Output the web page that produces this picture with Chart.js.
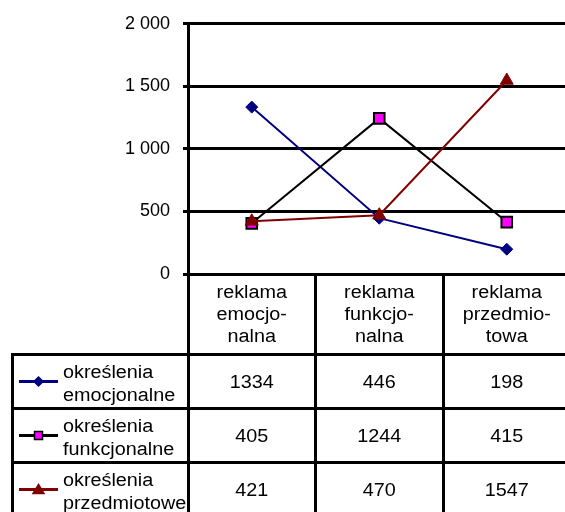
<!DOCTYPE html>
<html><head><meta charset="utf-8">
<script src="https://cdn.jsdelivr.net/npm/chart.js@4"></script>
<style>
html,body{margin:0;padding:0;background:#fff;}
#wrap{width:565px;height:512px;overflow:hidden;position:relative;background:#fff;}
canvas{display:block;}
</style></head><body>
<div id="wrap"><canvas id="c" width="580" height="512"></canvas></div>
<script>
// ---- data ----
const categories = ['reklama emocjonalna', 'reklama funkcjonalna', 'reklama przedmiotowa'];
const categoryLines = [['reklama', 'emocjo-', 'nalna'], ['reklama', 'funkcjo-', 'nalna'], ['reklama', 'przedmio-', 'towa']];
const seriesNames = ['określenia emocjonalne', 'określenia funkcjonalne', 'określenia przedmiotowe'];
const seriesLines = [['określenia', 'emocjonalne'], ['określenia', 'funkcjonalne'], ['określenia', 'przedmiotowe']];
const emocjonalne = [1334, 446, 198];
const funkcjonalne = [405, 1244, 415];
const przedmiotowe = [421, 470, 1547];
const yTickValues = [0, 500, 1000, 1500, 2000];
const yTickLabels = ['0', '500', '1 000', '1 500', '2 000'];

const FONT = '"Liberation Sans", Arial, sans-serif';
const STRETCH = 1.1;

function stretchedText(ctx, text, x, y, align) {
  ctx.save();
  ctx.translate(x, y);
  ctx.scale(STRETCH, 1);
  ctx.textAlign = align;
  ctx.textBaseline = 'alphabetic';
  ctx.fillText(text, 0, 0);
  ctx.restore();
}

function legendMarker(ctx, ds, x, y) {
  ctx.save();
  ctx.fillStyle = ds.pointBackgroundColor;
  ctx.strokeStyle = ds.pointBorderColor;
  ctx.lineWidth = 1.5;
  ctx.beginPath();
  if (ds.pointStyle === 'rectRot') {
    const r = 4.5;
    ctx.moveTo(x, y - r); ctx.lineTo(x + r, y); ctx.lineTo(x, y + r); ctx.lineTo(x - r, y); ctx.closePath();
  } else if (ds.pointStyle === 'rect') {
    const s = 4;
    ctx.rect(x - s, y - s, 2 * s, 2 * s);
  } else {
    ctx.moveTo(x, y - 5); ctx.lineTo(x + 5.5, y + 4); ctx.lineTo(x - 5.5, y + 4); ctx.closePath();
  }
  ctx.fill();
  ctx.stroke();
  ctx.restore();
}

const al = v => Math.floor(v) + 0.5;

const tablePlugin = {
  id: 'dataTable',
  afterDraw(chart) {
    const ctx = chart.ctx, xs = chart.scales.x, ys = chart.scales.y, area = chart.chartArea;
    const n = categories.length;
    const bounds = [];
    for (let i = 0; i <= n; i++) {
      if (i === 0) bounds.push(area.left);
      else if (i === n) bounds.push(area.right);
      else bounds.push((xs.getPixelForValue(i - 1) + xs.getPixelForValue(i)) / 2);
    }
    const headerTop = ys.getPixelForValue(0);
    const headerBottom = 354.5;
    const rowH = 54;
    const tableLeft = 12.5;
    const bottom = chart.height;
    ctx.save();
    ctx.strokeStyle = '#000';
    ctx.lineWidth = 3;
    bounds.forEach(b => { ctx.beginPath(); ctx.moveTo(al(b), headerTop); ctx.lineTo(al(b), bottom); ctx.stroke(); });
    ctx.beginPath(); ctx.moveTo(tableLeft, headerBottom - 1.5); ctx.lineTo(tableLeft, bottom); ctx.stroke();
    for (let r = 0; r < seriesNames.length; r++) {
      const y = headerBottom + r * rowH;
      ctx.beginPath(); ctx.moveTo(tableLeft - 1.5, y); ctx.lineTo(area.right, y); ctx.stroke();
    }
    // header
    ctx.fillStyle = '#000';
    ctx.font = '18px ' + FONT;
    for (let i = 0; i < n; i++) {
      const cx = xs.getPixelForValue(i);
      categoryLines[i].forEach((t, k) => stretchedText(ctx, t, cx, headerTop + 23.5 + k * 22, 'center'));
    }
    // rows
    const datasets = chart.data.datasets;
    datasets.forEach((ds, r) => {
      const top = headerBottom + r * rowH;
      const mid = top + rowH / 2;
      ctx.save();
      ctx.strokeStyle = ds.borderColor;
      ctx.lineWidth = 3;
      ctx.beginPath(); ctx.moveTo(19, mid); ctx.lineTo(58, mid); ctx.stroke();
      ctx.restore();
      legendMarker(ctx, ds, 38.5, mid);
      ctx.fillStyle = '#000';
      seriesLines[r].forEach((t, k) => stretchedText(ctx, t, 63, top + 23 + k * 23, 'left'));
      ds.data.forEach((v, i) => {
        stretchedText(ctx, String(v), xs.getPixelForValue(i), top + 33, 'center');
      });
    });
    ctx.restore();
  }
};

new Chart(document.getElementById('c'), {
  type: 'line',
  data: {
    labels: categories,
    datasets: [
      { label: seriesNames[0], data: emocjonalne, borderColor: '#000080', backgroundColor: '#000080',
        pointStyle: 'rectRot', pointRadius: 6, pointBackgroundColor: '#000080', pointBorderColor: '#000080',
        pointBorderWidth: 1, borderWidth: 2, order: 2, tension: 0 },
      { label: seriesNames[1], data: funkcjonalne, borderColor: '#000000', backgroundColor: '#ff00ff',
        pointStyle: 'rect', pointRadius: 7.5, pointBackgroundColor: '#ff00ff', pointBorderColor: '#000000',
        pointBorderWidth: 2, borderWidth: 2, order: 1, tension: 0 },
      { label: seriesNames[2], data: przedmiotowe, borderColor: '#800000', backgroundColor: '#800000',
        pointStyle: 'triangle', pointRadius: 7.5, pointBackgroundColor: '#800000', pointBorderColor: '#800000',
        pointBorderWidth: 1, borderWidth: 2, order: 0, tension: 0 }
    ]
  },
  options: {
    responsive: false,
    animation: false,
    layout: { padding: { left: 0, top: 22, right: 7, bottom: 238 } },
    plugins: { legend: { display: false }, tooltip: { enabled: false } },
    scales: {
      x: { display: false, offset: true },
      y: {
        min: 0, max: 2000,
        afterFit(scale) { scale.width = 188; },
        afterBuildTicks(scale) { scale.ticks = yTickValues.map(v => ({ value: v })); },
        ticks: {
          color: '#000', padding: 13,
          font: { family: FONT, size: 18 },
          callback: (v) => yTickLabels[yTickValues.indexOf(v)]
        },
        grid: { color: '#000', lineWidth: 3, tickLength: 5, drawTicks: true },
        border: { display: true, color: '#000', width: 3 }
      }
    }
  },
  plugins: [tablePlugin]
});
</script>
</body></html>
